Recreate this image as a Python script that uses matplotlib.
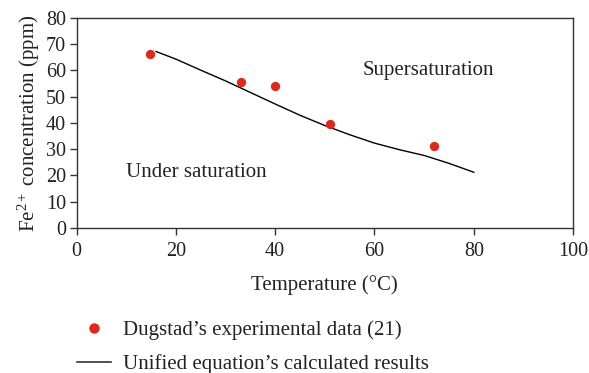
import matplotlib
matplotlib.use("Agg")
import matplotlib.pyplot as plt
from matplotlib.lines import Line2D

exp_temp = [14.7, 33.1, 40.0, 51.1, 72.0]
exp_conc = [66.3, 55.7, 54.1, 39.5, 31.2]

calc_temp = [16, 20, 25, 30, 35, 40, 45, 50, 55, 60, 65, 70, 75, 80]
calc_conc = [67.2, 64.3, 60.1, 56.0, 51.6, 47.2, 42.9, 39.0, 35.5, 32.3, 29.8, 27.6, 24.6, 21.2]

xticks = [0, 20, 40, 60, 80, 100]
yticks = [0, 10, 20, 30, 40, 50, 60, 70, 80]

plt.rcParams['font.family'] = ['Liberation Serif', 'DejaVu Serif']
plt.rcParams['mathtext.fontset'] = 'custom'
plt.rcParams['mathtext.rm'] = 'Liberation Serif'
plt.rcParams['mathtext.it'] = 'Liberation Serif:italic'
plt.rcParams['mathtext.default'] = 'regular'

fig = plt.figure(figsize=(5.89, 3.73), dpi=100)
ax = fig.add_axes([0.130, 0.389, 0.843, 0.563])

red = '#e0291d'
tc = '#222222'
ax.plot(calc_temp, calc_conc, color='black', lw=1.0)
ax.scatter(exp_temp, exp_conc, color=red, s=45, zorder=3, linewidths=0)

ax.set_xlim(0, 100)
ax.set_ylim(0, 80)
ax.set_xticks(xticks)
ax.set_yticks(yticks)
ax.tick_params(axis='both', labelsize=14.5, direction='out', length=5, width=1,
               colors='#333333', labelcolor=tc, pad=2.5)
ax.tick_params(axis='x', pad=5)
for s in ax.spines.values():
    s.set_linewidth(1.0)
    s.set_color('#333333')

ax.set_xlabel('Temperature (°C)', fontsize=15, color=tc, labelpad=10)
ax.set_ylabel('Fe$^{2+}$ concentration (ppm)', fontsize=15, color=tc, labelpad=3)

ax.text(70.8, 60, 'Supersaturation', fontsize=15, ha='center', va='center', color=tc)
ax.text(24.1, 21, 'Under saturation', fontsize=15, ha='center', va='center', color=tc)

handles = [
    Line2D([], [], marker='o', color=red, linestyle='none', markersize=7.5, markeredgewidth=0),
    Line2D([], [], color='#333333', lw=1.2),
]
labels = ['Dugstad\u2019s experimental data (21)', 'Unified equation\u2019s calculated results']
fig.legend(handles, labels, loc='upper left', bbox_to_anchor=(0.113, 0.168),
           frameon=False, fontsize=15, handlelength=1.65, handletextpad=0.58,
           labelspacing=0.65, borderpad=0, labelcolor=tc)

fig.savefig('out.png', dpi=100)
